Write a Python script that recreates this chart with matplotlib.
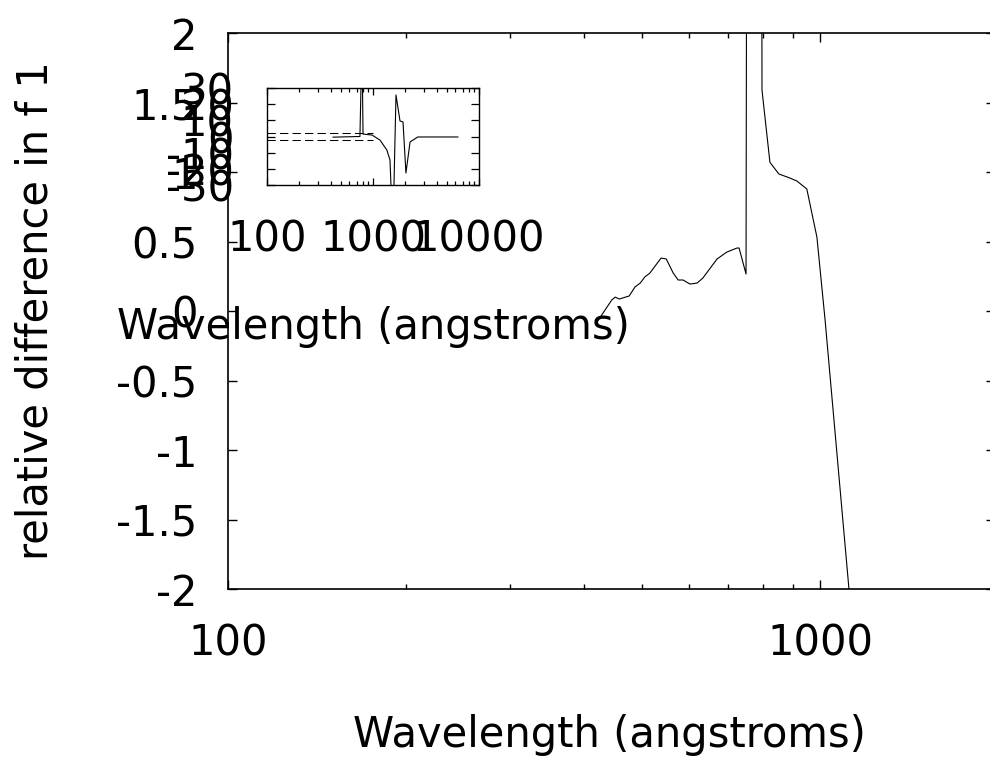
import matplotlib
matplotlib.use("Agg")
import matplotlib.pyplot as plt
from matplotlib.ticker import NullFormatter, LogLocator

plt.rcParams['font.family'] = ['DejaVu Sans']

# ---- data: main panel ----
main_x = [420, 445, 451, 458, 476, 487, 497, 506, 516, 539, 550, 565, 576, 587,
          603, 620, 634, 670, 696, 724, 730, 750, 777, 798, 823, 852, 889, 914,
          950, 988, 1020, 1163]
main_y = [-0.08, 0.08, 0.10, 0.086, 0.108, 0.173, 0.201, 0.245, 0.273, 0.381,
          0.374, 0.273, 0.223, 0.223, 0.194, 0.201, 0.237, 0.374, 0.424, 0.453,
          0.453, 0.266, 40.0, 1.59, 1.07, 0.986, 0.957, 0.935, 0.878, 0.532,
          -0.065, -2.8]

# ---- data: inset panel ----
inset_x = [420, 753, 787, 805, 979, 1163, 1352, 1446, 1540, 1648, 1798, 1919,
           2045, 2236, 2643, 6330]
inset_y = [-0.4, 0.0, 60.0, 1.5, 0.9, -2.2, -8.4, -14.5, -60.0, 25.7, 9.6, 9.0,
           -22.6, -3.4, -0.3, -0.3]
dash_x = [100, 1000]
dash_upper = [2.2, 2.2]
dash_lower = [-2.2, -2.2]

main_yticks = [-2, -1.5, -1, -0.5, 0, 0.5, 1, 1.5, 2]
main_ytick_labels = ["-2", "-1.5", "-1", "-0.5", "0", "0.5", "1", "1.5", "2"]
main_xticks = [100, 1000]
main_xtick_labels = ["100", "1000"]
inset_yticks = [-30, -20, -10, 0, 10, 20, 30]
inset_ytick_labels = ["-30", "-20", "-10", "0", "10", "20", "30"]
inset_xticks = [100, 1000, 10000]
inset_xtick_labels = ["100", "1000", "10000"]

W, H = 990, 759
FS = 30

fig = plt.figure(figsize=(W / 100, H / 100), dpi=100)

# main axes
left, right, top, bottom = 228, 995, 33, 589
ax = fig.add_axes([left / W, 1 - bottom / H, (right - left) / W, (bottom - top) / H])
ax.set_xscale('log')
ax.set_xlim(100, 10 ** (2 + (right - left) / 592))
ax.set_ylim(-2, 2)
ax.plot(main_x, main_y, color='black', lw=0.8)
ax.set_yticks(main_yticks)
ax.set_yticklabels(main_ytick_labels)
ax.set_xticks(main_xticks)
ax.set_xticklabels(main_xtick_labels)
ax.xaxis.set_minor_locator(LogLocator(base=10, subs=range(2, 10)))
ax.xaxis.set_minor_formatter(NullFormatter())
ax.tick_params(which='both', direction='in', top=True, right=True,
               labelsize=FS, width=1.0, colors='black')
ax.tick_params(axis='y', which='major', length=6.5, pad=22)
ax.tick_params(axis='x', which='major', length=6.5, pad=24)
ax.tick_params(axis='x', which='minor', length=3.3)
for s in ax.spines.values():
    s.set_linewidth(1.2)

# inset axes
il, ir, it, ib = 267, 479, 88, 185
axi = fig.add_axes([il / W, 1 - ib / H, (ir - il) / W, (ib - it) / H])
axi.set_xscale('log')
axi.set_xlim(100, 10000)
axi.set_ylim(-30, 30)
axi.plot(inset_x, inset_y, color='black', lw=0.8)
axi.plot(dash_x, dash_upper, color='black', lw=0.75, dashes=(8, 4))
axi.plot(dash_x, dash_lower, color='black', lw=0.75, dashes=(8, 4))
axi.set_yticks(inset_yticks)
axi.set_yticklabels(inset_ytick_labels)
axi.set_xticks(inset_xticks)
axi.set_xticklabels(inset_xtick_labels)
axi.xaxis.set_minor_locator(LogLocator(base=10, subs=range(2, 10)))
axi.xaxis.set_minor_formatter(NullFormatter())
axi.tick_params(which='both', direction='in', top=True, right=True,
                labelsize=FS, width=0.9, colors='black')
axi.tick_params(axis='y', which='major', length=5.5, pad=24)
axi.tick_params(axis='x', which='major', length=5.0, pad=24)
axi.tick_params(axis='x', which='minor', length=3.0)
for s in axi.spines.values():
    s.set_linewidth(1.0)

# axis titles
fig.text(609 / W, 1 - 735 / H, "Wavelength (angstroms)", fontsize=FS,
         ha='center', va='center')
fig.text(373 / W, 1 - 327 / H, "Wavelength (angstroms)", fontsize=FS,
         ha='center', va='center')
fig.text(36 / W, 1 - 311 / H, "relative difference in f 1", fontsize=FS,
         ha='center', va='center', rotation=90)

fig.savefig("out.png", dpi=100)
